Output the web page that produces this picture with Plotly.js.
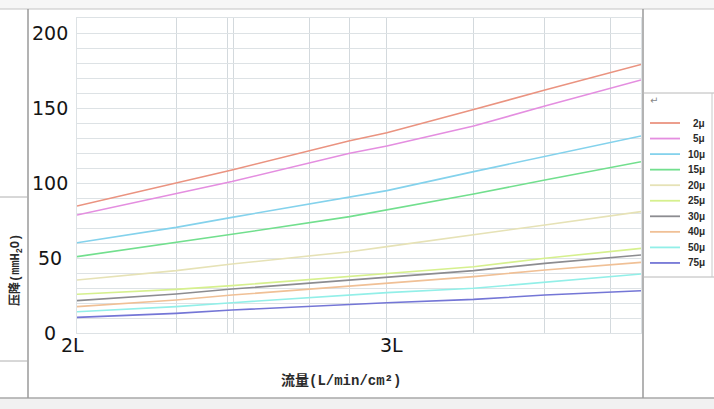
<!DOCTYPE html>
<html>
<head>
<meta charset="utf-8">
<script src="https://cdn.plot.ly/plotly-3.0.1.min.js"></script>
<style>html,body{margin:0;padding:0;background:#fff;}#chart{width:714px;height:409px;}</style>
</head>
<body>
<div id="chart"></div>
<script>
// ---- data ----
const flowX = [2.0, 2.32, 2.5, 2.88, 3.0, 3.28, 3.51, 3.82];
const seriesNames = ['2μ','5μ','10μ','15μ','20μ','25μ','30μ','40μ','50μ','75μ'];
const p2  = [84.7, 99.8, 108.7, 128.2, 133.5, 149.0, 162.0, 179.0];
const p5  = [78.7, 92.7, 101.0, 119.8, 124.7, 138.0, 151.3, 168.7];
const p10 = [60.2, 70.4, 77.1, 90.4, 94.9, 107.6, 117.6, 131.3];
const p15 = [50.9, 60.2, 65.8, 77.6, 82.0, 92.7, 102.0, 114.2];
const p20 = [35.3, 41.6, 46.0, 54.2, 57.6, 65.3, 72.0, 80.9];
const p25 = [25.8, 29.1, 31.6, 37.6, 39.3, 44.2, 49.8, 56.4];
const p30 = [21.6, 26.0, 29.3, 35.3, 37.6, 41.6, 46.4, 52.0];
const p40 = [17.6, 22.0, 25.3, 31.3, 33.1, 37.6, 42.0, 47.1];
const p50 = [14.2, 17.6, 20.2, 25.3, 26.9, 29.8, 33.8, 39.3];
const p75 = [10.4, 13.1, 15.3, 19.1, 20.2, 22.4, 25.3, 28.2];
const seriesValues = [p2, p5, p10, p15, p20, p25, p30, p40, p50, p75];
const seriesColors = ['#ea9380','#e48ee0','#84d2ec','#72df8e','#e6e2b6','#d6f08e','#8c8c90','#f0c096','#92efe8','#7476d6'];
const xGridVals = [2, 2.32, 2.485, 2.505, 2.75, 2.88, 3, 3.28, 3.51, 3.72];
const xLabelVals = [2, 3];
const xLabelText = ['2L', '3L'];
const yLabelVals = [0, 50, 100, 150, 200];
const xTitle = '流量(L/min/cm²)';
const yTitle = '压降(mmH<sub>2</sub>O)';

// ---- page geometry helpers (pixel -> paper) ----
const L = 77, T = 18, W = 564, H = 315;
const px = x => (x - L) / W;
const py = y => (T + H - y) / H;

const traces = seriesNames.map((n, i) => ({
  x: flowX, y: seriesValues[i], name: n, type: 'scatter', mode: 'lines',
  line: {color: seriesColors[i], width: 1.6}, showlegend: false, hoverinfo: 'skip'
}));

const shapes = [];
const annotations = [];
function hline(x0, x1, y, c, w) { shapes.push({type:'line', xref:'paper', yref:'paper', x0:px(x0), x1:px(x1), y0:py(y), y1:py(y), line:{color:c, width:w||1}, layer:'above'}); }
function vline(x, y0, y1, c, w) { shapes.push({type:'line', xref:'paper', yref:'paper', x0:px(x), x1:px(x), y0:py(y0), y1:py(y1), line:{color:c, width:w||1}, layer:'above'}); }
function rect(x0, y0, x1, y1, fill) { shapes.push({type:'rect', xref:'paper', yref:'paper', x0:px(x0), x1:px(x1), y0:py(y0), y1:py(y1), fillcolor:fill, line:{width:0}, layer:'below'}); }

// background strips
rect(0, 0, 714, 9, '#f6f6f6');
rect(0, 398, 714, 409, '#f1f1f1');
// table frame
hline(0, 714, 9, '#c4c4c4', 1);
hline(0, 714, 398, '#a8a8a8', 1.5);
vline(28, 9, 398, '#9a9a9a', 1.5);
vline(643, 9, 398, '#9a9a9a', 1.5);
hline(0, 28, 197, '#b0b0b0', 1);
hline(0, 28, 361, '#b0b0b0', 1);
hline(643, 714, 93, '#b8b8b8', 1);
hline(643, 714, 277, '#b8b8b8', 1);
vline(712, 93, 277, '#c8c8c8', 1);

// legend (drawn manually)
annotations.push({xref:'paper', yref:'paper', x:px(654), y:py(101), text:'↵', showarrow:false, font:{size:10, color:'#888', family:'DejaVu Sans'}, xanchor:'center', yanchor:'middle'});
seriesNames.forEach((n, i) => {
  const yy = 123 + i * 15.55;
  hline(650, 680, yy, seriesColors[i], 1.8);
  annotations.push({xref:'paper', yref:'paper', x:px(707), y:py(yy), text:'<b>' + n + '</b>', showarrow:false,
    font:{size:10, color:'#2a2a2a', family:'Liberation Sans, Arial'}, xanchor:'right', yanchor:'middle'});
});

// y tick labels, centered under the reference's column
yLabelVals.forEach(v => {
  annotations.push({xref:'paper', yref:'y', x:px(50), y:v, text:String(v), showarrow:false,
    font:{size:19, color:'#151515', family:'DejaVu Sans'}, xanchor:'center', yanchor:'middle'});
});
// x tick labels
const xLabelShift = [-5, 5];
xLabelVals.forEach((v, i) => {
  annotations.push({xref:'x', yref:'paper', x:v, y:py(345), text:xLabelText[i], showarrow:false,
    font:{size:19, color:'#151515', family:'DejaVu Sans'}, xanchor:'center', yanchor:'middle', xshift:xLabelShift[i]});
});

// axis titles
annotations.push({xref:'paper', yref:'paper', x:px(341), y:py(381), text:'<b>' + xTitle + '</b>', showarrow:false,
  font:{size:14, color:'#2a2a2a', family:'Liberation Mono, Noto Sans CJK SC'}, xanchor:'center', yanchor:'middle'});
annotations.push({xref:'paper', yref:'paper', x:px(16), y:py(270), text:'<b>' + yTitle + '</b>', textangle:-90, showarrow:false,
  font:{size:12, color:'#2a2a2a', family:'Liberation Mono, Noto Sans CJK SC'}, xanchor:'center', yanchor:'middle'});

const gridC = '#dde2e5';
const layout = {
  width: 714, height: 409,
  margin: {l: L, r: 714 - L - W, t: T, b: 409 - T - H, pad: 0},
  paper_bgcolor: '#ffffff', plot_bgcolor: '#ffffff',
  showlegend: false,
  xaxis: {type:'linear', range:[2, 3.82], tickmode:'array', tickvals:xGridVals,
    showgrid:true, gridcolor:'#d3d9dd', gridwidth:1, zeroline:false, showline:true, mirror:true, linecolor:gridC, linewidth:1,
    ticks:'', showticklabels:false, fixedrange:true},
  yaxis: {range:[0, 210], tick0:0, dtick:10, showgrid:true, gridcolor:gridC, gridwidth:1, zeroline:false,
    showline:true, mirror:true, linecolor:gridC, showticklabels:false, ticks:'', fixedrange:true},
  shapes: shapes, annotations: annotations
};
Plotly.newPlot('chart', traces, layout, {staticPlot:true, displayModeBar:false});
</script>
</body>
</html>
